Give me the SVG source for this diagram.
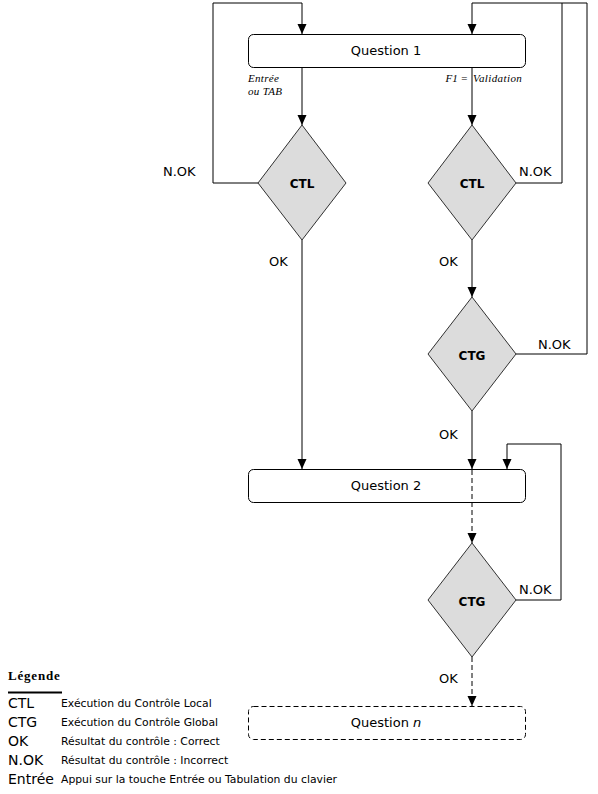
<svg xmlns="http://www.w3.org/2000/svg" width="598" height="794" viewBox="0 0 598 794">
<style>
.box{fill:#fff;stroke:#000;stroke-width:1}
.dbox{fill:#fff;stroke:#000;stroke-width:1;stroke-dasharray:5,3}
.dia{fill:#dcdcdc;stroke:#000;stroke-width:0.8}
.ln{fill:none;stroke:#000;stroke-width:1}
.dl{fill:none;stroke:#000;stroke-width:1;stroke-dasharray:5,3}
.t{font-family:"DejaVu Sans","Liberation Sans",sans-serif;fill:#000}
.q{font-size:13px}
.d{font-size:12px;font-weight:bold}
.lab{font-size:13px}
.it{font-family:"Liberation Serif",serif;font-style:italic;font-size:11px;fill:#000}
.lg{font-size:14px}
.ld{font-size:10.8px}
</style>
<defs>
<marker id="ah" markerUnits="userSpaceOnUse" markerWidth="10" markerHeight="10" viewBox="0 0 10 10" refX="10" refY="5" orient="auto">
<path d="M0,0.5 L10,5 L0,9.5 Z" fill="#000"/>
</marker>
</defs>
<rect width="598" height="794" fill="#fff"/>
<g id="connectors">
<path class="ln" d="M258,183 H213 V3 H302 V34" marker-end="url(#ah)"/>
<path class="ln" d="M587,354 V3 H472 V34" marker-end="url(#ah)"/>
<path class="ln" d="M516,183 H562 V3"/>
<path class="ln" d="M516,354 H587"/>
<path class="ln" d="M302,67 V125" marker-end="url(#ah)"/>
<path class="ln" d="M472,67 V125" marker-end="url(#ah)"/>
<path class="ln" d="M302,240 V469" marker-end="url(#ah)"/>
<path class="ln" d="M472,240 V297" marker-end="url(#ah)"/>
<path class="ln" d="M472,411 V469" marker-end="url(#ah)"/>
<path class="ln" d="M516,600 H561 V444 H507 V469" marker-end="url(#ah)"/>
<path class="dl" d="M472,502 V543" marker-end="url(#ah)"/>
<path class="dl" d="M472,657 V706" marker-end="url(#ah)"/>
<text class="it" x="248" y="82" letter-spacing="0.3">Entrée</text>
<text class="it" x="248" y="95" letter-spacing="0.3">ou TAB</text>
<text class="it" x="468" y="82" text-anchor="end">F1 =</text>
<text class="it" x="473" y="82" letter-spacing="0.4">Validation</text>
<text class="t lab" x="163" y="176">N.OK</text>
<text class="t lab" x="519" y="176">N.OK</text>
<text class="t lab" x="538" y="349">N.OK</text>
<text class="t lab" x="519" y="594">N.OK</text>
<text class="t lab" x="269" y="266">OK</text>
<text class="t lab" x="439" y="266">OK</text>
<text class="t lab" x="439" y="439">OK</text>
<text class="t lab" x="439" y="683">OK</text>
</g>
<g id="q1">
<rect class="box" x="248.5" y="34.5" width="277" height="33" rx="5"/>
<text class="t q" x="386" y="55" text-anchor="middle">Question 1</text>
</g>
<g id="ctl1">
<path class="dia" d="M302,125 L346,183 L302,240 L258,183 Z"/>
<text class="t d" x="302" y="188" text-anchor="middle">CTL</text>
</g>
<g id="ctl2">
<path class="dia" d="M472,125 L516,183 L472,240 L428,183 Z"/>
<text class="t d" x="472" y="188" text-anchor="middle">CTL</text>
</g>
<g id="ctg1">
<path class="dia" d="M472,297 L516,354 L472,411 L428,354 Z"/>
<text class="t d" x="472" y="360" text-anchor="middle">CTG</text>
</g>
<g id="q2">
<rect class="box" x="248.5" y="469.5" width="277" height="33" rx="5"/>
<text class="t q" x="386" y="490" text-anchor="middle">Question 2</text>
<path class="dl" d="M472,470 V502"/>
</g>
<g id="ctg2">
<path class="dia" d="M472,543 L516,600 L472,657 L428,600 Z"/>
<text class="t d" x="472" y="606" text-anchor="middle">CTG</text>
</g>
<g id="qn">
<rect class="dbox" x="248.5" y="706.5" width="277" height="33" rx="5"/>
<text class="t q" x="386" y="727" text-anchor="middle">Question <tspan font-style="italic">n</tspan></text>
</g>
<g id="legend">
<text x="8" y="680" font-family="Liberation Serif,serif" font-weight="bold" font-size="13" letter-spacing="0.8">Légende</text>
<line x1="8" y1="692.5" x2="62" y2="692.5" stroke="#000" stroke-width="2"/>
<text class="t lg" x="8" y="708">CTL</text>
<text class="t lg" x="8" y="727">CTG</text>
<text class="t lg" x="8" y="746">OK</text>
<text class="t lg" x="8" y="765">N.OK</text>
<text class="t lg" x="8" y="784">Entrée</text>
<text class="t ld" x="61" y="707">Exécution du Contrôle Local</text>
<text class="t ld" x="61" y="726">Exécution du Contrôle Global</text>
<text class="t ld" x="61" y="745">Résultat du contrôle :  Correct</text>
<text class="t ld" x="61" y="764">Résultat du contrôle : Incorrect</text>
<text class="t ld" x="61" y="783">Appui sur la touche Entrée ou Tabulation du clavier</text>
</g>
</svg>
